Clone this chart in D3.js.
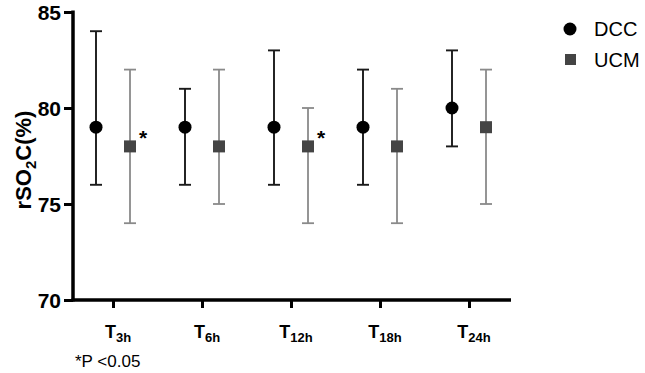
<!DOCTYPE html>
<html><head><meta charset="utf-8">
<script src="https://cdn.jsdelivr.net/npm/d3@7"></script>
<style>body{margin:0;background:#fff}svg{display:block}</style>
</head><body><svg id="c" width="645" height="373"></svg>
<script>
const categories = ["3h","6h","12h","18h","24h"];
const dccMean = [79,79,79,79,80];
const dccLow  = [76,76,76,76,78];
const dccHigh = [84,81,83,82,83];
const ucmMean = [78,78,78,78,79];
const ucmLow  = [74,75,74,74,75];
const ucmHigh = [82,82,80,81,82];
const ucmSig  = [true,false,true,false,false];
const yTicks  = [70,75,80,85];

const svg = d3.select("#c");
const font = "Arial, 'Liberation Sans', sans-serif";
const x = d3.scalePoint().domain(categories).range([113,469]);
const y = d3.scaleLinear().domain([70,85]).range([300,12]);
const off = 17;

// axes
const ya = svg.append("g").attr("transform","translate(73,0)")
  .call(d3.axisLeft(y).tickValues(yTicks).tickSize(9).tickPadding(3));
ya.select(".domain").attr("stroke","#000").attr("stroke-width",3.5).attr("d","M0,10.5V301.5");
ya.selectAll(".tick line").attr("stroke","#000").attr("stroke-width",3);
ya.selectAll(".tick text").attr("font-family",font).attr("font-weight","bold").attr("font-size",21).attr("fill","#000").attr("dy","0.35em");

const xa = svg.append("g").attr("transform","translate(0,300)")
  .call(d3.axisBottom(x).tickSize(8).tickFormat(""));
xa.select(".domain").attr("stroke","#000").attr("stroke-width",3.5).attr("d","M71.5,0H511");
xa.selectAll(".tick line").attr("stroke","#000").attr("stroke-width",3);

// x labels with subscript
categories.forEach(c=>{
  const t = svg.append("text").attr("x",x(c)+5).attr("y",338).attr("text-anchor","middle")
    .attr("font-family",font).attr("font-weight","bold").attr("fill","#000");
  t.append("tspan").attr("font-size",18).text("T");
  t.append("tspan").attr("font-size",13).attr("dy",4).text(c);
});

// y label
const yl = svg.append("text").attr("transform","translate(31,160) rotate(-90)").attr("text-anchor","middle")
  .attr("font-family",font).attr("font-weight","bold").attr("font-size",22).attr("fill","#000");
yl.append("tspan").text("rSO");
yl.append("tspan").attr("font-size",15).attr("dy",5).text("2");
yl.append("tspan").attr("dy",-5).text("C(%)");

function errbars(means, lows, highs, dx, color, w){
  const g = svg.append("g");
  categories.forEach((c,i)=>{
    const cx = x(c)+dx;
    g.append("line").attr("x1",cx).attr("x2",cx).attr("y1",y(highs[i])).attr("y2",y(lows[i])).attr("stroke",color).attr("stroke-width",w);
    [highs[i],lows[i]].forEach(v=>g.append("line").attr("x1",cx-6).attr("x2",cx+6).attr("y1",y(v)).attr("y2",y(v)).attr("stroke",color).attr("stroke-width",w));
  });
  return g;
}
errbars(dccMean,dccLow,dccHigh,-off,"#1a1a1a",1.9);
errbars(ucmMean,ucmLow,ucmHigh,off,"#8a8a8a",1.8);

categories.forEach((c,i)=>{
  svg.append("circle").attr("cx",x(c)-off).attr("cy",y(dccMean[i])).attr("r",6.5).attr("fill","#000");
  svg.append("rect").attr("x",x(c)+off-6).attr("y",y(ucmMean[i])-6).attr("width",12).attr("height",12).attr("fill","#444");
  if(ucmSig[i]) svg.append("text").attr("x",x(c)+off+13).attr("y",y(ucmMean[i])-1).attr("text-anchor","middle")
    .attr("font-family",font).attr("font-weight","bold").attr("font-size",21).attr("fill","#000").text("*");
});

// legend
svg.append("circle").attr("cx",570).attr("cy",29).attr("r",6.5).attr("fill","#000");
svg.append("text").attr("x",594).attr("y",36).attr("font-family",font).attr("font-size",20).attr("fill","#000").text("DCC");
svg.append("rect").attr("x",565).attr("y",54).attr("width",11).attr("height",11).attr("fill","#444");
svg.append("text").attr("x",594).attr("y",67).attr("font-family",font).attr("font-size",20).attr("fill","#000").text("UCM");

svg.append("text").attr("x",75).attr("y",367).attr("font-family",font).attr("font-size",17).attr("fill","#000").text("*P <0.05");
</script></body></html>
